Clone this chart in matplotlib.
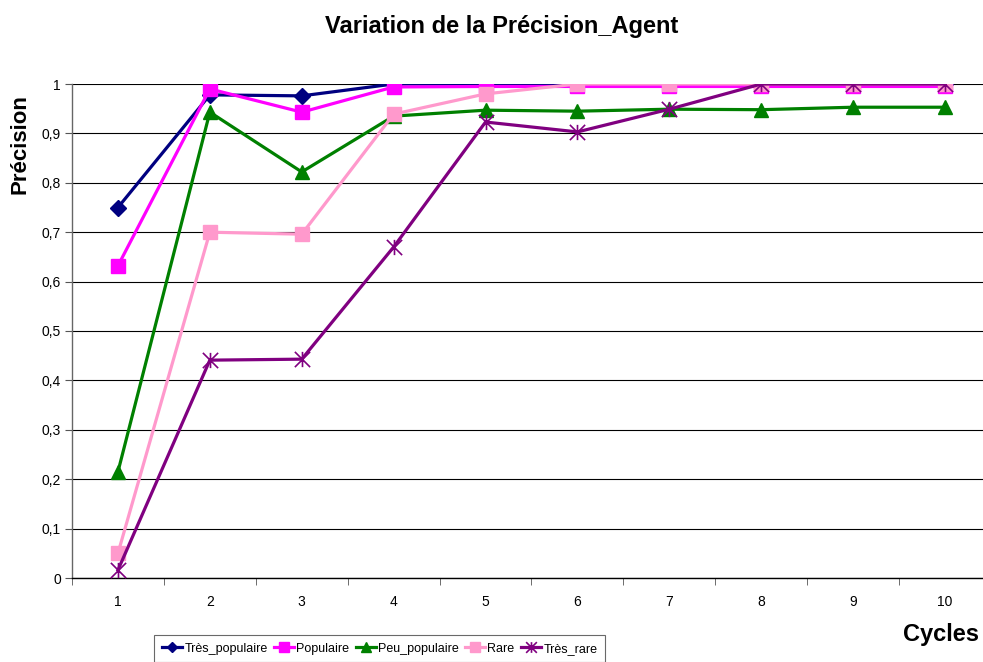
import matplotlib
matplotlib.use("Agg")
import matplotlib.pyplot as plt
from matplotlib.path import Path
import numpy as np

plt.rcParams['font.family'] = ['Liberation Sans', 'DejaVu Sans']

cycles = [1, 2, 3, 4, 5, 6, 7, 8, 9, 10]
tres_populaire = [0.75, 0.978, 0.976, 1.0, 1.0, 1.0, 1.0, 1.0, 1.0, 1.0]
populaire = [0.632, 0.99, 0.943, 0.994, 0.995, 0.995, 0.995, 0.995, 0.995, 0.995]
peu_populaire = [0.215, 0.943, 0.822, 0.935, 0.947, 0.945, 0.949, 0.948, 0.953, 0.953]
rare = [0.05, 0.70, 0.696, 0.939, 0.98, 1.0, 1.0, 1.0, 1.0, 1.0]
tres_rare = [0.016, 0.441, 0.443, 0.67, 0.923, 0.903, 0.949, 1.0, 1.0, 1.0]
y_ticks = [0, 0.1, 0.2, 0.3, 0.4, 0.5, 0.6, 0.7, 0.8, 0.9, 1.0]
y_labels = ["0", "0,1", "0,2", "0,3", "0,4", "0,5", "0,6", "0,7", "0,8", "0,9", "1"]

# Asterisk-style marker: vertical bar plus an X
star = Path([(0, -1), (0, 1), (-1, -1), (1, 1), (-1, 1), (1, -1)],
            [Path.MOVETO, Path.LINETO, Path.MOVETO, Path.LINETO, Path.MOVETO, Path.LINETO])

fig = plt.figure(figsize=(9.83, 6.62), dpi=100)
ax = fig.add_axes([72 / 983, 1 - 578 / 662, (983 - 72) / 983, (578 - 84) / 662])

series = [
    ("Très_populaire", tres_populaire, "#000080", "D", 8),
    ("Populaire", populaire, "#FF00FF", "s", 10),
    ("Peu_populaire", peu_populaire, "#008000", "^", 10),
    ("Rare", rare, "#FF99CC", "s", 10),
    ("Très_rare", tres_rare, "#800080", star, 11),
]
for name, vals, col, mk, ms in series:
    if mk is star:
        ax.plot(cycles, vals, color=col, lw=2.3, marker=mk, ms=ms,
                mew=1.2, mec=col, label=name, zorder=3)
    else:
        ax.plot(cycles, vals, color=col, lw=2.3, marker=mk, ms=ms,
                mec=col, mfc=col, label=name, zorder=3)

step = 91.9
ax.set_yticks(y_ticks)
ax.set_yticklabels(y_labels, fontsize=10)
ax.set_xticks(cycles)
ax.set_xticklabels([str(c) for c in cycles], fontsize=10)
ax.set_xticks(np.arange(0.5, 10.4, 1.0), minor=True)
ax.set_xlim(0.5, 0.5 + (983 - 72) / step)
ax.set_ylim(0, 1)
ax.tick_params(axis='x', which='major', length=0, pad=12)
ax.tick_params(axis='x', which='minor', length=5, color='#555555')
ax.tick_params(axis='y', length=5, color='#555555', pad=3)
ax.yaxis.grid(True, color='black', lw=0.8)
ax.set_axisbelow(True)
for s in ['top', 'right']:
    ax.spines[s].set_visible(False)
ax.spines['left'].set_color('#666666')
ax.spines['bottom'].set_color('black')
ax.spines['left'].set_linewidth(1.0)
ax.spines['bottom'].set_linewidth(1.0)

fig.text(502 / 983, 1 - 27 / 662, "Variation de la Précision_Agent", ha='center', va='center',
         fontsize=17, fontweight='bold')
fig.text(20 / 983, 1 - 144 / 662, "Précision", rotation=90, ha='center', va='center',
         fontsize=16, fontweight='bold')
fig.text(941 / 983, 1 - 635 / 662, "Cycles", ha='center', va='center',
         fontsize=17, fontweight='bold')

leg = fig.legend(loc='upper left', bbox_to_anchor=(148 / 983, 1 - 629 / 662), ncol=5,
                 fontsize=9, frameon=True, fancybox=False, edgecolor='#444444',
                 handlelength=1.6, handletextpad=0.2, columnspacing=0.5,
                 borderpad=0.6, markerscale=0.7)
leg.get_frame().set_linewidth(0.8)

fig.savefig("out.png", dpi=100)
